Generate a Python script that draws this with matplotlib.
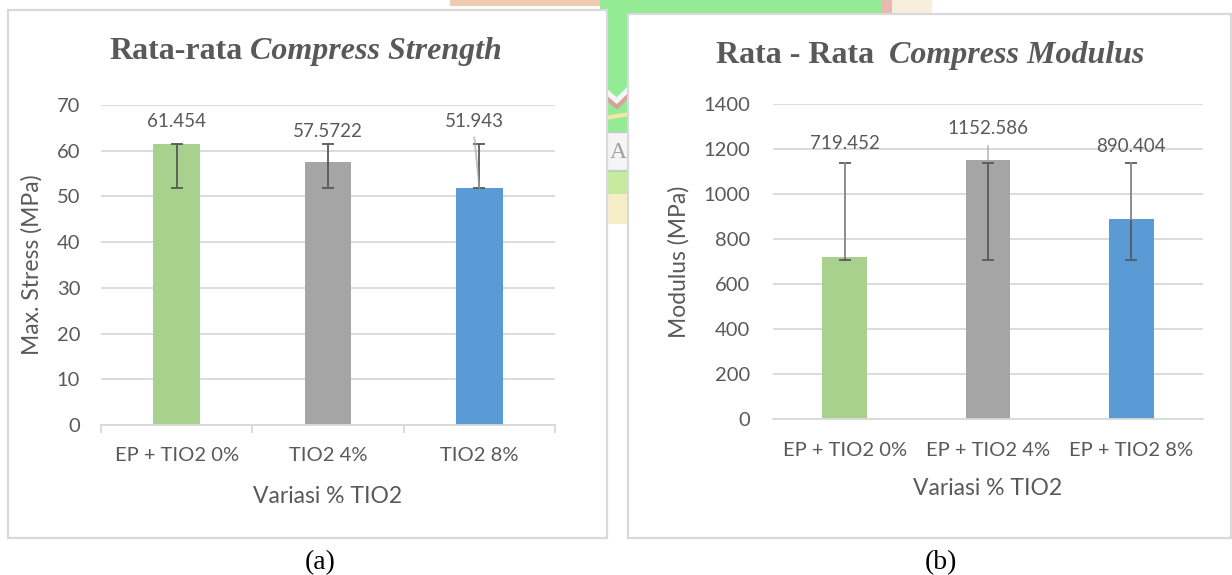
import numpy as np
import matplotlib.pyplot as plt
from matplotlib.patches import Rectangle

# Datos de ensayo de compresión
cats_a = ["EP + TIO2 0%", "TIO2 4%", "TIO2 8%"]
cats_b = ["EP + TIO2 0%", "EP + TIO2 4%", "EP + TIO2 8%"]
strength = [61.454, 57.5722, 51.943]
strength_lo = [51.943, 51.943, 51.943]
strength_hi = [61.454, 61.454, 61.454]
modulus = [719.452, 1152.586, 890.404]
modulus_lo = [705, 705, 705]
modulus_hi = [1140, 1140, 1140]

bar_colors = ["#A9D18E", "#A5A5A5", "#5B9BD5"]
txt_color = "#595959"
grid_color = "#D9D9D9"

plt.rcParams['font.family'] = ['Lato', 'DejaVu Sans']

W, H = 1232, 575
fig = plt.figure(figsize=(W / 100, H / 100), dpi=100)

# capa de fondo en pixeles
bg = fig.add_axes([0, 0, 1, 1], zorder=0)
bg.set_xlim(0, W)
bg.set_ylim(H, 0)
bg.axis('off')

# marca de agua (solo asoma entre los paneles)
wm = dict(lw=0, zorder=0.5)
bg.add_patch(Rectangle((450, 0), 155, 6, color="#F0CBB0", **wm))
bg.add_patch(Rectangle((600, 0), 282, 14, color="#93EC93", **wm))
bg.add_patch(Rectangle((882, 0), 10, 14, color="#E9B8B0", **wm))
bg.add_patch(Rectangle((892, 0), 40, 14, color="#F7EEDB", **wm))
bg.add_patch(Rectangle((600, 0), 30, 175, color="#93EC93", **wm))
bg.plot([604, 617, 630], [90, 101, 88], color="#F6F6F6", lw=4, zorder=0.6)
bg.plot([604, 617, 630], [96, 107, 94], color="#D6A29A", lw=3, zorder=0.6)
bg.plot([604, 630], [118, 114], color="#F2E6A8", lw=3, zorder=0.6)
bg.add_patch(Rectangle((600, 132), 30, 38, facecolor="#F5F5F5", edgecolor="#C9C9C9", lw=1, zorder=0.6))
bg.text(618, 152, "A", family="Liberation Serif", fontsize=17, color="#A0A0A0",
        ha='center', va='center', zorder=0.7)
bg.add_patch(Rectangle((600, 172), 30, 22, color="#C8E9A0", **wm))
bg.add_patch(Rectangle((600, 194), 30, 30, color="#F6EDC9", **wm))

# marcos de los dos graficos
bg.add_patch(Rectangle((8, 10), 599, 528, facecolor="white", edgecolor=grid_color, lw=1.6, zorder=5))
bg.add_patch(Rectangle((628, 14), 603, 524, facecolor="white", edgecolor=grid_color, lw=1.6, zorder=5))


def titulo(xc, yb, partes, gap, size=23):
    r = fig.canvas.get_renderer()
    objs = []
    for txt, estilo in partes:
        t = bg.text(0, yb, txt, fontsize=size, family="Liberation Serif", weight='bold',
                    style=estilo, color=txt_color, ha='left', va='baseline', zorder=6)
        objs.append(t)
    anchos = [t.get_window_extent(r).width for t in objs]
    x0 = xc - (sum(anchos) + gap) / 2
    for t, w in zip(objs, anchos):
        t.set_x(x0)
        x0 += w + gap


def panel(rect, vals, lo, hi, cats, ymax, step, lab_y, lab_dx, lead_top, ylabel,
          ylab_x, ypad, xpad, con_ticks):
    ax = fig.add_axes(rect, zorder=1)
    ax.patch.set_alpha(0)
    x = np.arange(len(vals))
    ax.bar(x, vals, width=0.31, color=bar_colors, zorder=2)

    lo = np.array(lo, dtype=float)
    hi = np.array(hi, dtype=float)
    ax.errorbar(x, (lo + hi) / 2, yerr=(hi - lo) / 2, fmt='none', ecolor=txt_color,
                elinewidth=1.3, capsize=4.3, capthick=1.3, zorder=3)

    for i, v in enumerate(vals):
        ax.text(i + lab_dx[i], lab_y[i], f"{v}", ha='center', va='center',
                fontsize=13.5, color=txt_color, zorder=4)
        if lead_top[i] is not None:
            ax.plot([i + lab_dx[i], i], [lead_top[i], v], color="#A6A6A6", alpha=0.7,
                    lw=1.3, zorder=4)

    ax.set_xlim(-0.5, len(vals) - 0.5)
    ax.set_ylim(0, ymax)
    ax.set_yticks(np.arange(0, ymax + step, step))
    ax.set_xticks(x)
    ax.set_xticklabels(cats)
    ax.tick_params(axis='y', length=0, pad=ypad, labelsize=14.5, labelcolor=txt_color)
    ax.tick_params(axis='x', which='major', length=0, pad=xpad, labelsize=14.5,
                   labelcolor=txt_color)
    if con_ticks:
        ax.set_xticks(np.arange(-0.5, len(vals)), minor=True)
        ax.tick_params(axis='x', which='minor', length=6, width=1.3, color=grid_color)

    ax.yaxis.grid(True, color=grid_color, lw=1.3)
    ax.set_axisbelow(True)
    for s in ['left', 'right', 'top']:
        ax.spines[s].set_visible(False)
    ax.spines['bottom'].set_color(grid_color)
    ax.spines['bottom'].set_linewidth(1.3)

    ax.set_xlabel("Variasi % TIO2", fontsize=16.5, color=txt_color)
    ax.xaxis.set_label_coords(0.5, -0.222)
    ax.xaxis.label.set_va('center')
    ax.set_ylabel(ylabel, fontsize=16.5, color=txt_color)
    ax.yaxis.set_label_coords(ylab_x, 0.5)
    ax.yaxis.label.set_va('center')
    return ax


# (a) resistencia a compresion
panel([101 / W, 1 - 425 / H, 454 / W, 320 / H], strength, strength_lo, strength_hi, cats_a,
      70, 10, [66.3, 64.1, 66.3], [0, 0, -0.033], [None, None, 62.9],
      "Max. Stress (MPa)", -0.152, 15, 15.5, True)

# (b) modulo de compresion
panel([773 / W, 1 - 419 / H, 430 / W, 315 / H], modulus, modulus_lo, modulus_hi, cats_b,
      1400, 200, [1224, 1290, 1213], [0, 0, 0], [1140, 1213, 1140],
      "Modulus (MPa)", -0.2186, 16.5, 16.5, False)

titulo(305.5, 59, [("Rata-rata", 'normal'), ("Compress Strength", 'italic')], 8)
titulo(930, 63, [("Rata - Rata", 'normal'), ("Compress Modulus", 'italic')], 15)

bg.text(320, 563, "(a)", family="Liberation Serif", fontsize=20, color="black", ha='center', va='center')
bg.text(941, 563, "(b)", family="Liberation Serif", fontsize=20, color="black", ha='center', va='center')

fig.savefig("out.png", dpi=100)
